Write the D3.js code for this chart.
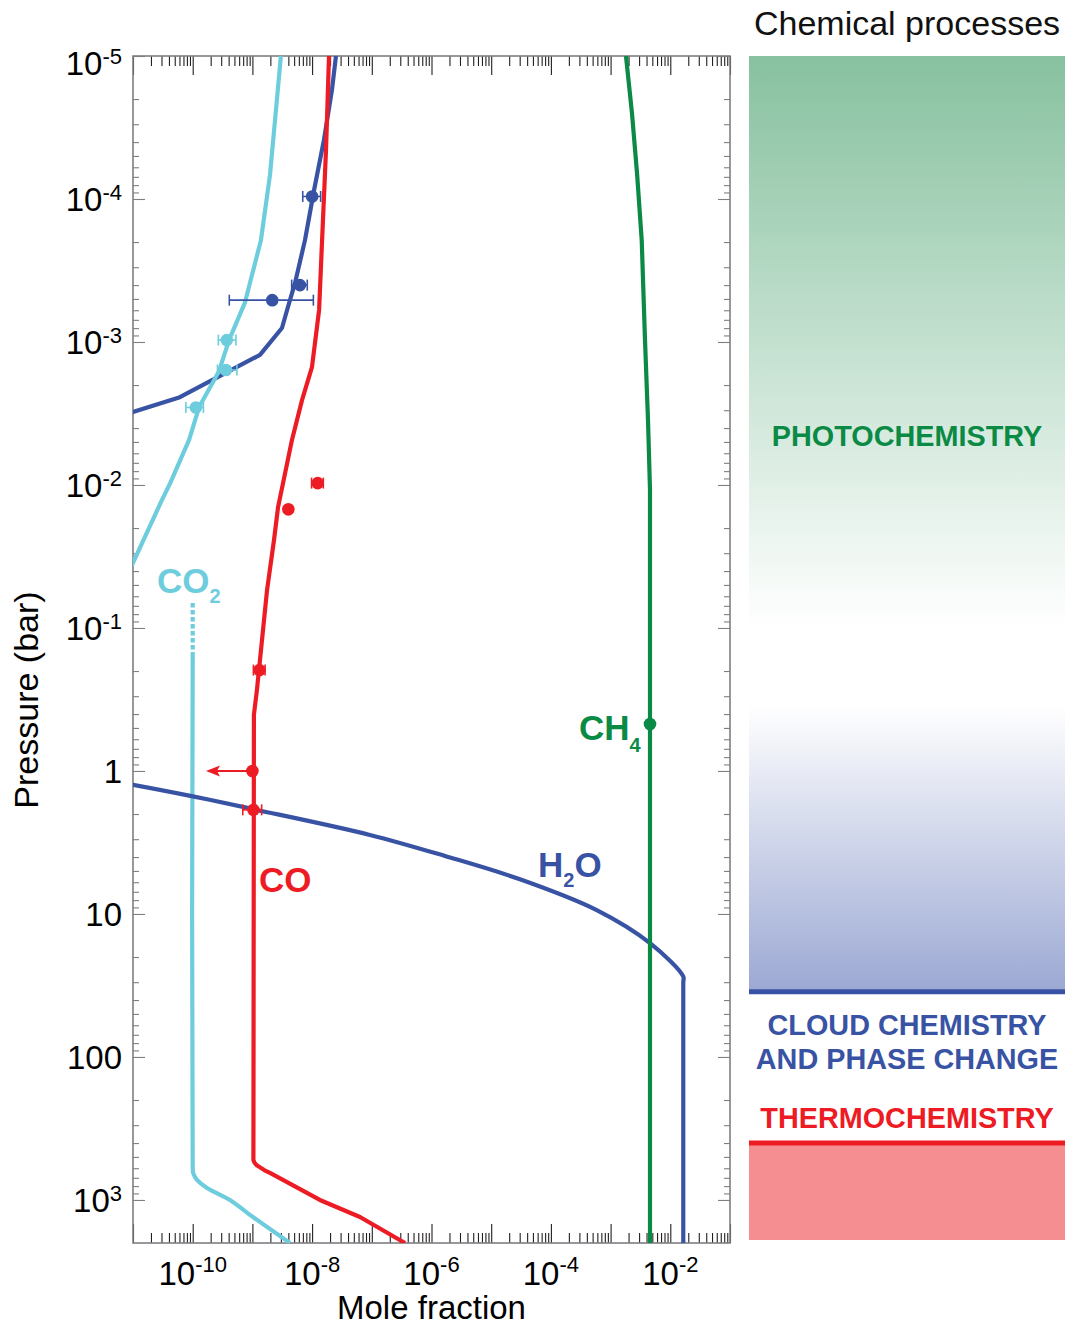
<!DOCTYPE html>
<html>
<head>
<meta charset="utf-8">
<script src="https://cdn.jsdelivr.net/npm/d3@7"></script>
<style>
  html, body { margin: 0; padding: 0; background: #fff; }
  svg { display: block; font-family: "Liberation Sans", Arial, Helvetica, sans-serif; }
</style>
</head>
<body>
<svg id="chart" width="1067" height="1327"></svg>
<script>
// ---- Model profiles: [mole fraction, pressure (bar)] ----
const h2oUpper = [[2.51e-8, 1e-5], [2.15e-8, 1.73e-5], [1.58e-8, 3.86e-5], [1.08e-8, 8.65e-5],
  [7.6e-9, 1.94e-4], [5.18e-9, 3.86e-4], [3.94e-9, 5.69e-4], [3.13e-9, 7.98e-4],
  [1.34e-9, 1.23e-3], [6.1e-11, 2.43e-3], [1e-11, 3.09e-3], [1e-12, 4.2e-3]];
const h2oLower = [[1e-12, 1.06], [1e-11, 1.25], [9.6e-11, 1.50], [1.04e-9, 1.85], [9.3e-8, 2.80],
  [1.68e-6, 3.93], [3.03e-5, 5.72], [5.85e-4, 9.4], [4.57e-3, 16.0], [1.65e-2, 27.4],
  [1.65e-2, 30], [1.65e-2, 2000]];
const co2Upper = [[3.0e-9, 1e-5], [2.48e-9, 2.39e-5], [1.97e-9, 6.8e-5], [1.39e-9, 1.94e-4],
  [7.5e-10, 5.3e-4], [4.06e-10, 9.7e-4], [2.76e-10, 1.6e-3], [1.28e-10, 2.85e-3],
  [8.7e-11, 4.84e-3], [4.2e-11, 9.7e-3], [3.06e-11, 1.27e-2], [1e-11, 3.5e-2], [8.3e-12, 4.1e-2]];
const co2DeepDashed = [[1e-10, 0.067], [1e-10, 0.157]];
const co2Deep = [[1e-10, 0.157], [1e-10, 597], [1.02e-10, 650], [1.18e-10, 724], [1.74e-10, 824],
  [4.2e-10, 1000], [1.02e-9, 1315], [4.27e-9, 2000]];
const coProfile = [[1.92e-8, 1e-5], [1.71e-8, 4.54e-5], [1.47e-8, 1.94e-4], [1.31e-8, 5.97e-4],
  [9.95e-9, 1.50e-3], [6.78e-9, 2.55e-3], [4.6e-9, 4.84e-3], [3.26e-9, 9.7e-3],
  [2.69e-9, 1.43e-2], [2.30e-9, 2.43e-2], [1.76e-9, 5.42e-2], [1.45e-9, 0.121],
  [1.19e-9, 0.272], [1.06e-9, 0.405], [1.04e-9, 525], [1.08e-9, 548], [1.2e-9, 575],
  [1.6e-9, 620], [1.97e-9, 647], [1.35e-8, 1000], [6.34e-8, 1315], [3.6e-7, 2000]];
const ch4Profile = [[1.81e-3, 1e-5], [2.28e-3, 2.51e-5], [2.77e-3, 6.58e-5], [3.32e-3, 1.94e-4],
  [3.77e-3, 9.7e-4], [4.23e-3, 3.51e-3], [4.57e-3, 1.08e-2], [4.57e-3, 2000]];

// ---- Measurements: value, error range, pressure ----
const h2oObs = [
  { v: 1.0e-8, lo: 6.97e-9, hi: 1.39e-8, p: 9.6e-5 },
  { v: 6.26e-9, lo: 4.55e-9, hi: 8.3e-9, p: 4.0e-4 },
  { v: 2.15e-9, lo: 4.1e-10, hi: 1.05e-8, p: 5.1e-4 }];
const co2Obs = [
  { v: 3.72e-10, lo: 2.69e-10, hi: 5.3e-10, p: 9.7e-4 },
  { v: 3.6e-10, lo: 2.6e-10, hi: 5.5e-10, p: 1.57e-3 },
  { v: 1.13e-10, lo: 7.7e-11, hi: 1.51e-10, p: 2.87e-3 }];
const coObs = [
  { v: 1.24e-8, lo: 9.8e-9, hi: 1.54e-8, p: 9.7e-3 },
  { v: 4.0e-9, p: 1.48e-2 },
  { v: 1.31e-9, lo: 1.04e-9, hi: 1.63e-9, p: 0.197 },
  { v: 1.04e-9, lo: 6.9e-10, hi: 1.43e-9, p: 1.87 }];
const coLimit = [{ v: 1.0e-9, p: 1.0, to: 1.67e-10 }];
const ch4Obs = [{ v: 4.57e-3, p: 0.469 }];

// ---- Axis ticks and labels ----
const xLabelExponents = [-10, -8, -6, -4, -2];
const yTickValues = [1e-5, 1e-4, 1e-3, 1e-2, 1e-1, 1, 10, 100, 1000];
const yTickLabels = [["10", "-5"], ["10", "-4"], ["10", "-3"], ["10", "-2"], ["10", "-1"],
  ["1", ""], ["10", ""], ["100", ""], ["10", "3"]];

// ---- Process regions (pressure in bar) ----
const photoFadeEnd = 0.1;
const cloudFadeStart = 0.35;
const cloudLevel = 35;
const thermoLevel = 400;

const colors = {
  h2o: "#3953a4", co2: "#6dcddd", co: "#ed1c24", ch4: "#0b8a45",
  photoFill: "#87c19f", cloudFill: "#9ba8d3", thermoFill: "#f48e90",
  frame: "#7d7f82", tick: "#231f20"
};

const svg = d3.select("#chart");
const L = 133, R = 730, T = 56, B = 1243;
const x = d3.scaleLog().domain([1e-11, 1e-1]).range([L, R]);
const y = d3.scaleLog().domain([1e-5, 2000]).range([T, B]);

const defs = svg.append("defs");
defs.append("clipPath").attr("id", "plotClip")
  .append("rect").attr("x", L).attr("y", T).attr("width", R - L).attr("height", B - T);

// ---- Right panel: chemical processes ----
const PX0 = 749, PX1 = 1065;
const gPhoto = defs.append("linearGradient").attr("id", "photoGrad")
  .attr("gradientUnits", "userSpaceOnUse").attr("x1", 0).attr("x2", 0)
  .attr("y1", y(1e-5)).attr("y2", y(photoFadeEnd));
gPhoto.append("stop").attr("offset", 0).attr("stop-color", colors.photoFill);
gPhoto.append("stop").attr("offset", 1).attr("stop-color", "#ffffff");
const gCloud = defs.append("linearGradient").attr("id", "cloudGrad")
  .attr("gradientUnits", "userSpaceOnUse").attr("x1", 0).attr("x2", 0)
  .attr("y1", y(cloudFadeStart)).attr("y2", y(cloudLevel));
gCloud.append("stop").attr("offset", 0).attr("stop-color", "#ffffff");
gCloud.append("stop").attr("offset", 1).attr("stop-color", colors.cloudFill);

const panel = svg.append("g");
panel.append("rect").attr("x", PX0).attr("width", PX1 - PX0)
  .attr("y", y(1e-5)).attr("height", y(photoFadeEnd) - y(1e-5)).attr("fill", "url(#photoGrad)");
panel.append("rect").attr("x", PX0).attr("width", PX1 - PX0)
  .attr("y", y(cloudFadeStart)).attr("height", y(cloudLevel) - y(cloudFadeStart)).attr("fill", "url(#cloudGrad)");
panel.append("line").attr("x1", PX0).attr("x2", PX1)
  .attr("y1", y(cloudLevel)).attr("y2", y(cloudLevel))
  .attr("stroke", colors.h2o).attr("stroke-width", 5);
panel.append("rect").attr("x", PX0).attr("width", PX1 - PX0)
  .attr("y", y(thermoLevel)).attr("height", y(2000) - 3 - y(thermoLevel)).attr("fill", colors.thermoFill);
panel.append("line").attr("x1", PX0).attr("x2", PX1)
  .attr("y1", y(thermoLevel)).attr("y2", y(thermoLevel))
  .attr("stroke", colors.co).attr("stroke-width", 5);

const cx = (PX0 + PX1) / 2;
panel.append("text").attr("x", cx).attr("y", 35).attr("text-anchor", "middle")
  .attr("font-size", 34).attr("fill", "#111").text("Chemical processes");
const bold = (txt, yy, col) => panel.append("text").attr("x", cx).attr("y", yy)
  .attr("text-anchor", "middle").attr("font-size", 28.8).attr("font-weight", "bold")
  .attr("fill", col).text(txt);
bold("PHOTOCHEMISTRY", 446, colors.ch4);
bold("CLOUD CHEMISTRY", 1035, colors.h2o);
bold("AND PHASE CHANGE", 1069, colors.h2o);
bold("THERMOCHEMISTRY", 1128, colors.co);

// ---- Axis ticks ----
const minorVals = (lo, hi) => {
  const out = [];
  for (let e = lo; e <= hi; e++) for (let k = 2; k <= 9; k++) out.push(k * Math.pow(10, e));
  return out;
};
const xMajor = d3.range(-11, 0).map(e => Math.pow(10, e));
const xMinor = minorVals(-11, -2);
const yMajor = d3.range(-5, 4).map(e => Math.pow(10, e));
const yMinor = minorVals(-5, 3).filter(v => v < 2000);

function ticks(axis, values, size, tx, ty, color) {
  const g = svg.append("g").attr("transform", `translate(${tx},${ty})`)
    .call(axis.tickValues(values).tickSize(-size).tickFormat(""));
  g.select(".domain").remove();
  g.selectAll(".tick line").attr("stroke", color).attr("stroke-width", 1.1);
}
ticks(d3.axisBottom(x), xMajor, 19, 0, B, colors.tick);
ticks(d3.axisBottom(x), xMinor, 10, 0, B, colors.tick);
ticks(d3.axisTop(x), xMajor, 19, 0, T, colors.tick);
ticks(d3.axisTop(x), xMinor, 10, 0, T, colors.tick);
ticks(d3.axisLeft(y), yMajor, 12, L, 0, colors.frame);
ticks(d3.axisLeft(y), yMinor, 6, L, 0, colors.frame);
ticks(d3.axisRight(y), yMajor, 12, R, 0, colors.frame);
ticks(d3.axisRight(y), yMinor, 6, R, 0, colors.frame);

svg.append("rect").attr("x", L).attr("y", T).attr("width", R - L).attr("height", B - T)
  .attr("fill", "none").attr("stroke", colors.frame).attr("stroke-width", 1.6);

// ---- Tick labels ----
const xl = svg.append("g").attr("font-size", 33).attr("fill", "#000");
xLabelExponents.forEach(e => {
  const t = xl.append("text").attr("x", x(Math.pow(10, e))).attr("y", 1285).attr("text-anchor", "middle");
  t.append("tspan").text("10");
  t.append("tspan").attr("font-size", 22).attr("dy", -13).text(String(e));
});
const yl = svg.append("g").attr("font-size", 33).attr("fill", "#000");
yTickValues.forEach((v, i) => {
  const [base, sup] = yTickLabels[i];
  const t = yl.append("text").attr("x", 122).attr("y", y(v) + (i === 0 ? 19 : 12)).attr("text-anchor", "end");
  t.append("tspan").text(base);
  if (sup) t.append("tspan").attr("font-size", 22).attr("dy", -11).text(sup);
});

svg.append("text").attr("x", (L + R) / 2).attr("y", 1319).attr("text-anchor", "middle")
  .attr("font-size", 33).attr("fill", "#000").text("Mole fraction");
svg.append("text").attr("transform", `translate(38,${700}) rotate(-90)`).attr("text-anchor", "middle")
  .attr("font-size", 34).attr("fill", "#000").text("Pressure (bar)");

// ---- Profiles ----
const plot = svg.append("g").attr("clip-path", "url(#plotClip)");
const lineLin = d3.line().x(d => x(d[0])).y(d => y(d[1]));
const lineSmooth = d3.line().x(d => x(d[0])).y(d => y(d[1])).curve(d3.curveCatmullRom.alpha(0.5));
const draw = (data, gen, col, extra) => {
  const p = plot.append("path").datum(data).attr("d", gen).attr("fill", "none")
    .attr("stroke", col).attr("stroke-width", 4.2).attr("stroke-linejoin", "round");
  if (extra) extra(p);
  return p;
};
draw(co2DeepDashed, lineLin, colors.co2, p => p.attr("stroke-dasharray", "4.5,2.5"));
draw(co2Deep, lineSmooth, colors.co2);
draw(h2oUpper, lineLin, colors.h2o);
draw(h2oLower, lineSmooth, colors.h2o);
draw(co2Upper, lineLin, colors.co2);
draw(coProfile, lineLin, colors.co);
draw(ch4Profile, lineLin, colors.ch4);

// ---- Measurements ----
function observations(data, col) {
  const g = plot.append("g");
  data.filter(d => d.lo != null).forEach(d => {
    const yy = y(d.p);
    g.append("line").attr("x1", x(d.lo)).attr("x2", x(d.hi)).attr("y1", yy).attr("y2", yy)
      .attr("stroke", col).attr("stroke-width", 1.6);
    [d.lo, d.hi].forEach(v => g.append("line").attr("x1", x(v)).attr("x2", x(v))
      .attr("y1", yy - 5.5).attr("y2", yy + 5.5).attr("stroke", col).attr("stroke-width", 1.6));
  });
  g.selectAll("circle").data(data).join("circle")
    .attr("cx", d => x(d.v)).attr("cy", d => y(d.p)).attr("r", 6.3).attr("fill", col);
}
observations(h2oObs, colors.h2o);
observations(co2Obs, colors.co2);
observations(coObs, colors.co);
observations(ch4Obs, colors.ch4);

// Upper limit on CO near 1 bar
coLimit.forEach(d => {
  const yy = y(d.p), x0 = x(d.v), x1 = x(d.to);
  plot.append("line").attr("x1", x0).attr("x2", x1 + 10).attr("y1", yy).attr("y2", yy)
    .attr("stroke", colors.co).attr("stroke-width", 2);
  plot.append("path").attr("d", `M${x1},${yy} L${x1 + 14},${yy - 5.5} L${x1 + 11},${yy} L${x1 + 14},${yy + 5.5} Z`)
    .attr("fill", colors.co);
  plot.append("circle").attr("cx", x0).attr("cy", yy).attr("r", 6.3).attr("fill", colors.co);
});

// ---- Species labels ----
function species(xx, yy, main, sub, col, subDy) {
  const t = svg.append("text").attr("x", xx).attr("y", yy).attr("font-size", 35)
    .attr("font-weight", "bold").attr("fill", col);
  main.forEach((m, i) => {
    t.append("tspan").attr("font-size", 35).attr("dy", i === 0 ? 0 : -subDy).text(m);
    if (sub[i]) t.append("tspan").attr("font-size", 20).attr("dy", subDy).text(sub[i]);
  });
}
species(157, 593, ["CO"], ["2"], colors.co2, 10);
species(259, 892, ["CO"], [""], colors.co, 10);
species(538, 877, ["H", "O"], ["2", ""], colors.h2o, 10);
species(579, 740, ["CH"], ["4"], colors.ch4, 12);
</script>
</body>
</html>
